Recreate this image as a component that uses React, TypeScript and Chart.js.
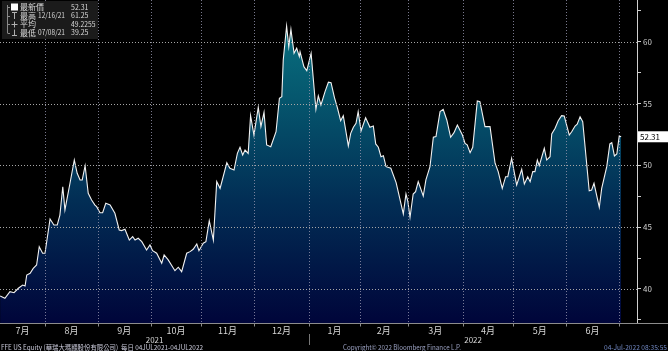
import React, { useEffect, useRef } from "react";
import { Chart, registerables } from "chart.js";

Chart.register(...registerables);

// x = weekday index counted from Mon 05-Jul-2021 (= 0)
const tradeDay = [
  1.3, 3.3, 5.4, 7.1, 8.9, 10.7, 11.7, 12.4, 13.8, 15.1, 16.5, 17.6, 19.0, 20.0, 22.1, 23.7, 25.1, 26.2, 27.4, 28.3,
  30.4, 32.2, 33.4, 34.6, 35.5, 36.7, 38.0, 39.4, 40.8, 41.5, 42.9, 44.0, 45.3, 47.1, 49.1, 50.9, 51.9, 53.3, 55.1, 56.5,
  57.5, 58.8, 60.3, 62.3, 63.7, 64.8, 66.5, 68.6, 69.6, 71.3, 74.1, 75.5, 76.9, 79.0, 80.4, 81.7, 83.2, 84.1, 85.9, 87.0,
  88.4, 90.1, 91.5, 92.9, 95.7, 97.0, 98.7, 100.1, 101.2, 102.3, 103.3, 104.6, 105.6, 107.0, 108.8, 109.9, 111.2, 112.3, 114.0, 116.2,
  117.6, 118.6, 119.2, 120.6, 121.5, 122.4, 123.7, 124.8, 125.9, 126.2, 127.8, 129.0, 130.8, 132.8, 133.8, 134.9, 136.6, 138.0, 139.1, 140.5,
  141.7, 143.1, 144.2, 146.3, 147.3, 148.4, 149.5, 150.4, 151.6, 153.5, 155.3, 156.7, 157.7, 158.8, 159.9, 160.9, 162.0, 164.0, 166.2, 169.2,
  170.3, 171.1, 172.0, 173.3, 174.3, 175.4, 177.5, 178.6, 180.3, 181.7, 182.8, 184.5, 185.8, 187.3, 188.9, 190.3, 191.7, 193.8, 194.9, 195.8,
  197.0, 198.1, 200.0, 201.1, 203.2, 205.3, 207.4, 208.7, 210.4, 211.8, 212.7, 214.3, 216.4, 218.5, 219.6, 221.0, 222.0, 223.1, 224.0, 225.0,
  225.8, 227.9, 228.9, 230.3, 231.0, 232.4, 233.7, 235.1, 236.2, 238.3, 239.3, 240.7, 241.6, 242.8, 243.9, 246.6, 247.6, 248.6, 250.8, 251.8,
  253.9, 255.2, 256.0, 257.1, 258.1, 259.1, 259.9,
];

const price = [
  39.43, 39.25, 39.78, 39.70, 40.06, 40.32, 40.24, 41.13, 41.27, 41.67, 41.94, 43.42, 42.89, 42.89, 45.66, 45.18, 45.18, 45.98, 48.27, 46.39,
  48.55, 50.43, 49.36, 48.82, 48.82, 49.97, 47.74, 47.20, 46.79, 46.66, 46.17, 46.17, 46.93, 46.79, 46.12, 44.77, 44.72, 44.83, 43.96, 44.23,
  43.96, 44.10, 43.83, 43.15, 43.56, 43.10, 42.89, 42.08, 42.75, 42.35, 41.48, 41.76, 41.40, 42.89, 43.02, 43.21, 43.64, 43.10, 43.70, 43.83,
  45.52, 43.96, 48.68, 48.14, 50.21, 49.76, 49.62, 50.97, 51.46, 50.84, 51.24, 50.97, 54.02, 52.45, 54.69, 53.13, 54.29, 51.65, 51.51, 52.72,
  55.42, 55.55, 58.52, 61.25, 59.60, 61.00, 59.06, 59.47, 58.79, 59.19, 57.98, 57.65, 59.06, 54.53, 55.61, 54.88, 55.96, 56.72, 56.68, 55.50,
  54.69, 53.61, 54.02, 51.57, 52.59, 53.08, 53.40, 54.34, 52.78, 53.85, 53.08, 53.18, 51.73, 51.46, 50.70, 50.78, 49.89, 49.76, 48.60, 46.07,
  47.68, 47.06, 45.80, 47.68, 47.87, 48.68, 47.52, 48.82, 49.89, 52.27, 52.32, 54.34, 54.53, 53.67, 52.27, 52.64, 53.26, 52.45, 51.78, 51.65,
  51.02, 51.46, 55.20, 55.15, 53.13, 53.13, 50.17, 49.49, 48.14, 49.08, 49.08, 50.57, 48.41, 49.68, 48.49, 49.08, 48.68, 49.49, 49.49, 50.43,
  49.97, 51.38, 50.43, 50.70, 52.54, 53.00, 53.61, 54.02, 53.99, 52.45, 52.72, 53.18, 53.32, 53.93, 53.53, 47.95, 48.01, 48.55, 46.61, 48.14,
  49.89, 51.73, 51.83, 50.76, 50.92, 52.37, 52.31,
];

// month boundaries (weekday index of the 1st of each month)
const monthStarts = [-2, 20, 42, 64, 85, 107, 130, 151, 171, 194, 215, 237, 259];
const monthLabels = ["7月", "8月", "9月", "10月", "11月", "12月", "1月", "2月", "3月", "4月", "5月", "6月"];
const yearLabels = ["2021", "2022"];
const yTickValues = [37.5, 40, 42.5, 45, 47.5, 50, 52.5, 55, 57.5, 60, 62.5];
const yGridValues = [40, 45, 50, 55, 60];

const legendNames = ["最新價", "最高", "平均", "最低"];
const legendDates = ["", "12/16/21", "", "07/08/21"];
const legendValues = ["52.31", "61.25", "49.2255", "39.25"];
const lastValueLabel = "52.31";

const footerLeft = "FFE US Equity (華瑞大瑪顯股份有限公司)  每日 04JUL2021-04JUL2022";
const footerCenter = "Copyright© 2022 Bloomberg Finance L.P.";
const footerRight = "04-Jul-2022 08:35:55";

const X_MIN = 1.26;
const X_MAX = 266.5;
const Y_MIN = 37.25;
const Y_MAX = 63.37;

const FONT_CJK = '"Noto Sans CJK TC", "Noto Sans", sans-serif';

function dottedV(ctx: CanvasRenderingContext2D, x: number, y0: number, y1: number, color: string) {
  ctx.fillStyle = color;
  for (let y = Math.ceil(y0); y < y1; y += 3) ctx.fillRect(x, y, 1, 1);
}
function dottedH(ctx: CanvasRenderingContext2D, y: number, x0: number, x1: number, color: string) {
  ctx.fillStyle = color;
  for (let x = Math.ceil(x0); x < x1; x += 3) ctx.fillRect(x, y, 1, 1);
}

const deco = {
  id: "deco",
  beforeDraw(chart: any) {
    const { ctx, width, height } = chart;
    ctx.save();
    ctx.fillStyle = "#000";
    ctx.fillRect(0, 0, width, height);
    ctx.restore();
  },
  afterDraw(chart: any) {
    const ctx = chart.ctx;
    const xs = chart.scales.x;
    const ys = chart.scales.y;
    const area = chart.chartArea;
    ctx.save();
    ctx.setLineDash([]);

    // dotted grid over the area fill
    for (const v of monthStarts.slice(1)) {
      const px = Math.round(xs.getPixelForValue(v));
      dottedV(ctx, px, area.top, area.bottom, "rgba(150,150,175,0.8)");
    }
    for (const v of yGridValues) {
      const py = Math.round(ys.getPixelForValue(v));
      dottedH(ctx, py, area.left, area.right, "#a6a6a6");
    }

    // bottom axis line across full width + tick marks
    ctx.strokeStyle = "#8c8c8c";
    ctx.lineWidth = 1;
    ctx.beginPath();
    const by = Math.round(area.bottom) + 0.5;
    ctx.moveTo(0, by);
    ctx.lineTo(chart.width, by);
    for (const v of monthStarts.slice(1)) {
      const px = Math.round(xs.getPixelForValue(v)) + 0.5;
      ctx.moveTo(px, by);
      ctx.lineTo(px, by + 3);
    }
    ctx.stroke();

    // month labels
    ctx.fillStyle = "#d6d6d6";
    ctx.textAlign = "center";
    ctx.textBaseline = "middle";
    ctx.font = `9px ${FONT_CJK}`;
    for (let k = 0; k < monthLabels.length; k++) {
      const a = Math.max(area.left, xs.getPixelForValue(monthStarts[k]));
      const b = xs.getPixelForValue(monthStarts[k + 1]);
      ctx.fillText(monthLabels[k], (a + b) / 2, 331);
    }

    // year labels & divider
    const jan = xs.getPixelForValue(monthStarts[6]);
    ctx.font = `8px ${FONT_CJK}`;
    ctx.fillText(yearLabels[0], (area.left + jan) / 2, 339.5);
    ctx.fillText(yearLabels[1], (jan + area.right) / 2, 339.5);
    ctx.strokeStyle = "#777";
    ctx.beginPath();
    ctx.moveTo(Math.round(jan) + 0.5, 334);
    ctx.lineTo(Math.round(jan) + 0.5, 345);
    ctx.stroke();

    // footer
    ctx.font = `7px ${FONT_CJK}`;
    ctx.textAlign = "left";
    ctx.fillStyle = "#c8c8d8";
    ctx.fillText(footerLeft, 1, 347, 202);
    ctx.textAlign = "center";
    ctx.fillStyle = "#9aa0c0";
    ctx.fillText(footerCenter, 402, 347, 118);
    ctx.textAlign = "right";
    ctx.fillStyle = "#6f86c0";
    ctx.fillText(footerRight, 667, 347, 63);

    // last value label
    const ly = ys.getPixelForValue(price[price.length - 1]);
    ctx.fillStyle = "#ffffff";
    ctx.fillRect(area.right + 1, ly - 5.5, chart.width - area.right - 1, 11);
    ctx.fillStyle = "#000";
    ctx.textAlign = "left";
    ctx.font = `8px ${FONT_CJK}`;
    ctx.fillText(lastValueLabel, area.right + 3, ly + 0.5, 24);

    // legend box
    ctx.fillStyle = "#1b1b1b";
    ctx.fillRect(2, 1, 96, 38);
    const rows = [7, 15.5, 24, 32.5];
    ctx.strokeStyle = "#8a8a8a";
    ctx.beginPath();
    ctx.moveTo(7.5, 5);
    ctx.lineTo(7.5, 33);
    for (let r = 0; r < 4; r++) {
      const y = Math.round(rows[r]) + 0.5;
      ctx.moveTo(7.5, y);
      ctx.lineTo(10, y);
    }
    ctx.stroke();
    ctx.fillStyle = "#ffffff";
    ctx.fillRect(11, 3.5, 7, 7);
    ctx.strokeStyle = "#b0b0b0";
    ctx.beginPath();
    ctx.moveTo(12, 12.5); ctx.lineTo(17, 12.5);
    ctx.moveTo(14.5, 12.5); ctx.lineTo(14.5, 19);
    ctx.moveTo(11.5, 24.5); ctx.lineTo(17.5, 24.5);
    ctx.moveTo(14.5, 21.5); ctx.lineTo(14.5, 27.5);
    ctx.moveTo(14.5, 29.5); ctx.lineTo(14.5, 35.5);
    ctx.moveTo(12, 35.5); ctx.lineTo(17, 35.5);
    ctx.stroke();

    ctx.textAlign = "left";
    ctx.fillStyle = "#d8d8d8";
    for (let r = 0; r < 4; r++) {
      const y = rows[r];
      ctx.font = `8px ${FONT_CJK}`;
      ctx.fillText(legendNames[r], 20, y, legendNames[r].length * 8);
      ctx.font = `7.5px ${FONT_CJK}`;
      if (legendDates[r]) ctx.fillText(legendDates[r], 38, y, 27);
      ctx.fillText(legendValues[r], 71, y, legendValues[r].length * 3.5);
    }

    ctx.restore();
  },
};

export default function App() {
  const ref = useRef<HTMLCanvasElement | null>(null);

  useEffect(() => {
    document.body.style.margin = "0";
    document.body.style.background = "#000";
    const canvas = ref.current!;
    const data = tradeDay.map((d, i) => ({ x: d, y: price[i] }));

    const zeroPad = (s: any) => {
      s.paddingTop = 0;
      s.paddingBottom = 0;
      s.paddingLeft = 0;
      s.paddingRight = 0;
    };

    const chart = new Chart(canvas, {
      type: "line",
      data: {
        datasets: [
          {
            data,
            borderColor: "#f2f2f2",
            borderWidth: 1.1,
            pointRadius: 0,
            tension: 0,
            fill: "start",
            backgroundColor: (c: any) => {
              const a = c.chart.chartArea;
              if (!a) return "#033";
              const g = c.chart.ctx.createLinearGradient(0, a.top, 0, a.bottom);
              g.addColorStop(0, "#0a7885");
              g.addColorStop(0.3, "#05576e");
              g.addColorStop(0.62, "#022e55");
              g.addColorStop(1, "#00053a");
              return g;
            },
          },
        ],
      },
      options: {
        animation: false,
        responsive: false,
        events: [],
        layout: { padding: 0, autoPadding: false },
        plugins: { legend: { display: false }, tooltip: { enabled: false } },
        scales: {
          x: {
            type: "linear",
            min: X_MIN,
            max: X_MAX,
            afterBuildTicks: (s: any) => {
              s.ticks = monthStarts.slice(1).map((v) => ({ value: v }));
            },
            afterFit: (s: any) => {
              s.height = 28;
              zeroPad(s);
            },
            ticks: { display: false },
            grid: { display: false },
            border: { display: false },
          },
          y: {
            type: "linear",
            position: "right",
            min: Y_MIN,
            max: Y_MAX,
            afterBuildTicks: (s: any) => {
              s.ticks = yTickValues.map((v) => ({ value: v }));
            },
            afterFit: (s: any) => {
              s.width = 31;
              zeroPad(s);
            },
            ticks: {
              color: "#cfcfcf",
              font: { size: 8, family: FONT_CJK },
              padding: 2,
              callback: (v: any) => (Number(v) % 5 === 0 ? String(v) : ""),
            },
            grid: {
              drawOnChartArea: false,
              lineWidth: 1,
              tickLength: 4,
              tickColor: "#cfcfcf",
              color: "#cfcfcf",
            },
            border: { display: true, color: "#d0d0d0", width: 1 },
          },
        },
      },
      plugins: [deco],
    } as any);

    return () => chart.destroy();
  }, []);

  return (
    <div style={{ width: 668, height: 351, background: "#000" }}>
      <canvas ref={ref} width={668} height={351} style={{ display: "block" }} />
    </div>
  );
}
